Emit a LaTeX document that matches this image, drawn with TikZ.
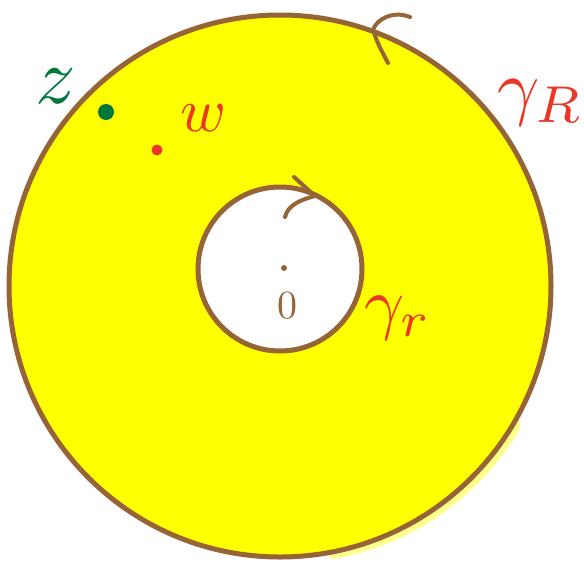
\documentclass[tikz,border=0pt]{standalone}
\begin{document}
\begin{tikzpicture}[x=1pt,y=-1pt,
  every node/.style={inner sep=0pt,outer sep=0pt},
  rim/.style={draw=cbrown,line width=5pt},
  stroke/.style={line width=4pt,line cap=round,line join=round}]
\definecolor{cbrown}{RGB}{150,100,55}
\definecolor{cred}{RGB}{235,55,40}
\definecolor{cgreen}{RGB}{0,120,60}
\definecolor{cyel}{RGB}{255,255,0}
\useasboundingbox (0,0) rectangle (584,563);
% outer disc with faint smudge
\begin{scope}
\clip (330,420) rectangle (520,563);
\fill[cyel!45] (286,292) circle[radius=271pt];
\end{scope}
\fill[cyel] (280,286) circle[radius=271pt];
\draw[rim] (280,286) circle[radius=271pt];
% inner hole
\fill[white] (280,269) circle[radius=82pt];
\draw[rim] (280,269) circle[radius=82pt];
% orientation marks
\draw[cbrown,stroke] (410,17) .. controls (392,10) and (376,20) .. (373,30) .. controls (378,44) .. (388,63);
\draw[cbrown,stroke] (294,177) -- (315,196) .. controls (300,200) and (288,205) .. (285,217);
% points
\fill[cgreen] (106,112) circle[radius=8pt];
\fill[cred] (157,150) circle[radius=5.5pt];
\fill[cbrown] (284,268) circle[radius=3pt];
% labels
\node[text=cgreen,scale=8] (z) at (56,86) {$z$};
\node[text=cred,scale=6.2] (w) at (204,118) {$w$};
\node[text=cbrown,scale=4] (o) at (287,306) {$0$};
\node[text=cred,scale=7.4] (gR) at (541,103) {$\gamma_R$};
\node[text=cred,scale=7] (gr) at (398,318) {$\gamma_r$};
\end{tikzpicture}
\end{document}
